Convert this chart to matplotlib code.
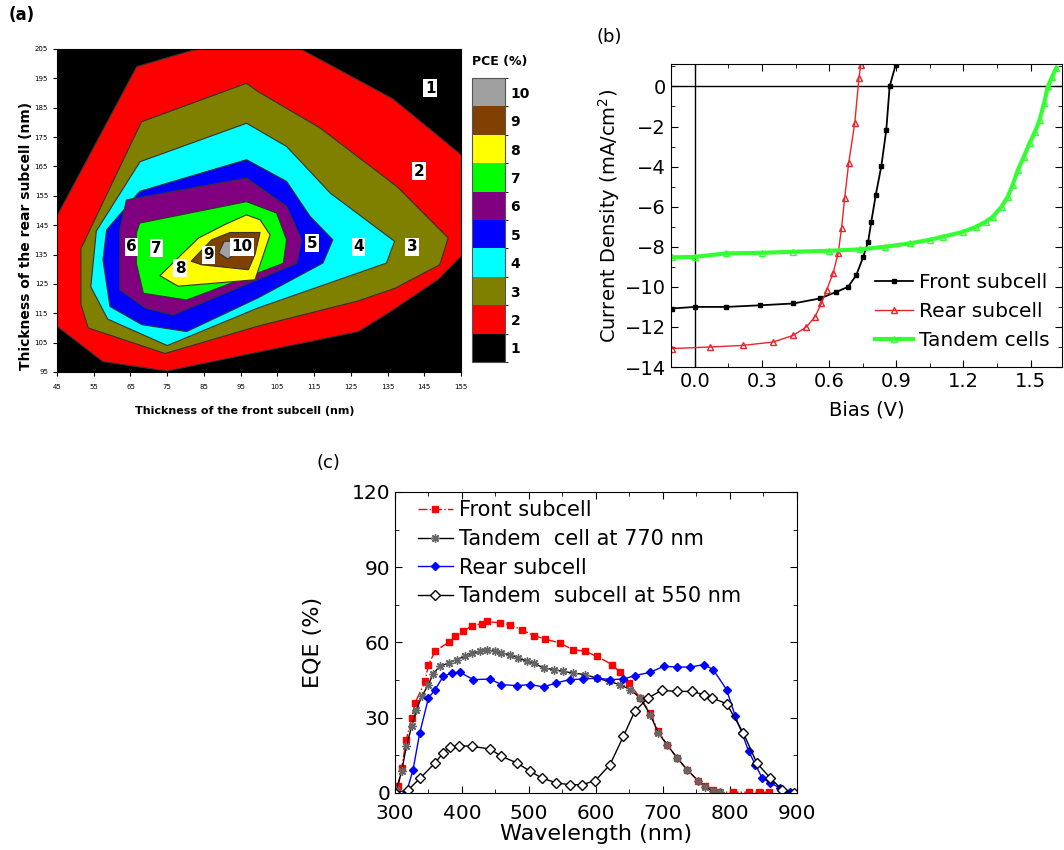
import matplotlib
matplotlib.use("Agg")
import matplotlib.pyplot as plt
import numpy as np
from matplotlib.colors import ListedColormap, BoundaryNorm
from matplotlib.cm import ScalarMappable
from matplotlib.ticker import MultipleLocator

# ---- (a) PCE contour map: boundaries (front nm, rear nm) ----
pce2_front = [45, 57.5, 75, 100, 127, 136, 148.7, 155.5, 155.5, 136.5, 110.6, 84.5, 66.7, 44.5]
pce2_rear = [110.5, 98.5, 95.3, 101.8, 108.7, 115.7, 126.4, 135, 168.5, 188, 205.5, 205.5, 199, 147]
pce3_front = [74.4, 100, 127, 137, 149.2, 151.5, 137.5, 116.6, 99.7, 96.6, 68, 51.5, 51.5, 53.5]
pce3_rear = [101.3, 110.7, 119.2, 123.5, 131.5, 140.6, 158.2, 178.1, 190.5, 193.3, 180.2, 137, 118, 110]
pce4_front = [75, 99.7, 134.7, 136.9, 119.4, 107.5, 96.6, 67.6, 55.7, 54.2, 58.8]
pce4_rear = [104, 116.8, 132.1, 139.5, 155.9, 171.8, 179.7, 166.6, 143, 124, 113]
pce5_front = [80.3, 99.7, 117.4, 120.1, 113.9, 107.5, 96.6, 67.5, 58.5, 57.5, 59.4, 68.1]
pce5_rear = [108.75, 120.2, 132.1, 140.0, 148, 159.9, 167.3, 156.5, 143.4, 133.2, 117.3, 111.1]
pce6_front = [76.6, 110.3, 111.6, 107.5, 96.6, 63.9, 62.1, 62.1, 69]
pce6_rear = [114.4, 132, 140, 151.4, 161, 153.6, 143.4, 123, 116.8]
pce7_front = [68.5, 80.3, 106.6, 107.5, 104.8, 96.6, 67.5, 66.6, 66.6]
pce7_rear = [121.8, 119.5, 132, 140, 149.1, 153, 145.7, 142.3, 132]
pce8_front = [73, 83.5, 90.7, 96.6, 100.3, 103, 98.9, 78]
pce8_rear = [127.8, 140.6, 145.2, 148.5, 146.8, 141.7, 126.4, 124.2]
pce9_front = [81.5, 87.1, 92.1, 100.3, 98.9, 97.1, 84.4]
pce9_rear = [132.7, 140, 142.5, 142.5, 135, 129.8, 131.5]
pce10_front = [89, 90.5, 93, 93.8, 91.5]
pce10_rear = [135.5, 139.5, 139.5, 135.5, 133.5]

pce_levels = [1, 2, 3, 4, 5, 6, 7, 8, 9, 10]
pce_colors = ["#000000", "#ff0000", "#808000", "#00ffff", "#0000ff",
              "#800080", "#00ff00", "#ffff00", "#804000", "#a0a0a0"]
label_front = [146.6, 143.5, 141.6, 127.1, 114.4, 65.3, 72.1, 78.5, 86.2, 95.3]
label_rear = [191.7, 163.3, 137.7, 137.7, 138.9, 137.7, 137.2, 130.3, 134.9, 137.7]

# ---- (b) J-V curves ----
front_v = [-0.104, 0.0, 0.141, 0.29, 0.439, 0.558, 0.632, 0.684, 0.721, 0.751,
           0.774, 0.788, 0.808, 0.833, 0.855, 0.870, 0.897]
front_j = [-11.08, -11.0, -11.0, -10.92, -10.83, -10.58, -10.25, -10.0, -9.42, -8.53,
           -7.75, -6.75, -5.42, -3.97, -2.17, 0.0, 1.08]
rear_v = [-0.104, 0.067, 0.216, 0.35, 0.439, 0.498, 0.536, 0.565, 0.588, 0.617,
          0.640, 0.655, 0.669, 0.687, 0.714, 0.733, 0.741]
rear_j = [-13.08, -13.0, -12.92, -12.75, -12.42, -12.0, -11.5, -10.83, -10.17, -9.33,
          -8.33, -7.08, -5.58, -3.83, -1.83, 0.42, 1.08]
tandem_v = [-0.104, 0.0, 0.141, 0.3, 0.439, 0.6, 0.736, 0.85, 0.96, 1.05, 1.108, 1.2,
            1.257, 1.3, 1.331, 1.37, 1.398, 1.42, 1.443, 1.47, 1.495, 1.52, 1.540, 1.56,
            1.577, 1.595, 1.614]
tandem_j = [-8.53, -8.5, -8.33, -8.3, -8.25, -8.2, -8.13, -8.0, -7.83, -7.65, -7.5, -7.25,
            -7.0, -6.75, -6.5, -6.0, -5.5, -4.9, -4.17, -3.5, -2.83, -2.25, -1.67, -0.85,
            0.0, 0.45, 0.92]

# ---- (c) EQE spectra ----
front_wl = [305, 310, 317, 325, 330, 345, 350, 360, 380, 390, 402, 415, 430, 437, 457,
            472, 489, 507, 524, 546, 566, 584, 601, 624, 636, 649, 666, 681, 693, 706,
            721, 736, 753, 763, 775, 783, 805, 828, 843, 858]
front_eqe = [2.7, 10, 21.3, 29.9, 35.9, 44.5, 51.2, 56.5, 60.1, 62.7, 64.5, 66.7, 67.5,
             68.4, 67.8, 67.1, 65.1, 62.7, 61.4, 59.8, 57.1, 56.5, 54.5, 51.2, 48.1,
             43.9, 37.9, 31.9, 24.6, 19.3, 14, 9.3, 4.7, 2.7, 1.1, 0.3, 0.3, 0.3, 0.3, 0.3]
t770_wl = [302, 310, 317, 325, 332, 340, 350, 357, 367, 380, 392, 405, 415, 427, 437,
           449, 459, 472, 484, 497, 507, 522, 537, 551, 566, 584, 601, 619, 636, 651,
           666, 681, 693, 706, 721, 736, 753, 763, 775, 785]
t770_eqe = [1.3, 8.6, 18.6, 26.6, 33.2, 38.5, 43.2, 47.6, 50.5, 51.8, 53.2, 54.5, 55.8,
            56.5, 57.1, 56.5, 55.8, 55.1, 53.8, 52.5, 51.8, 49.8, 49.2, 48.5, 47.8, 47.2,
            45.8, 44.5, 43.2, 41.2, 37.9, 31.2, 23.9, 19.3, 14, 9.3, 4.7, 2.4, 0.7, 0.3]
rear_wl = [317, 327, 337, 350, 360, 372, 385, 397, 417, 442, 459, 482, 502, 522, 541,
           561, 581, 601, 621, 641, 658, 681, 701, 721, 741, 761, 775, 795, 808, 818,
           828, 838, 848, 860, 875, 890]
rear_eqe = [0, 9.3, 23.9, 37.9, 41.2, 46.5, 47.8, 48.1, 45.2, 45.4, 43.2, 42.8, 43.2,
            42.3, 43.9, 45.2, 45.4, 45.8, 45.2, 45.4, 46.8, 48.1, 50.5, 50.2, 50.2, 51.2,
            49.2, 41.2, 30.6, 23.9, 16.6, 11.3, 6, 4, 2, 0.3]
t550_wl = [300, 320, 338, 360, 372, 382, 395, 415, 442, 459, 482, 502, 519, 541, 561,
           579, 599, 621, 641, 658, 678, 698, 721, 743, 761, 773, 795, 820, 840, 860,
           878, 895]
t550_eqe = [0, 1.3, 6, 12, 16, 18.2, 18.9, 18.6, 17.5, 14.6, 12, 8.6, 6, 4, 3.3, 3.3,
            4.9, 11.3, 22.6, 32.6, 37.9, 40.9, 40.5, 40.5, 39.2, 37.9, 35.6, 23.9, 12,
            6, 1.3, 0]

plt.rcParams["font.family"] = "DejaVu Sans"
fig = plt.figure(figsize=(10.64, 8.5), dpi=100)

# ---------------- (a) ----------------
ax_a = fig.add_axes([0.0536, 0.5624, 0.3797, 0.380])
ax_a.set_facecolor(pce_colors[0])
polys = [(pce2_front, pce2_rear), (pce3_front, pce3_rear), (pce4_front, pce4_rear),
         (pce5_front, pce5_rear), (pce6_front, pce6_rear), (pce7_front, pce7_rear),
         (pce8_front, pce8_rear), (pce9_front, pce9_rear), (pce10_front, pce10_rear)]
for (px, py), col in zip(polys, pce_colors[1:]):
    ax_a.fill(px, py, facecolor=col, edgecolor="#333333", linewidth=0.8)
for lv, lx, ly in zip(pce_levels, label_front, label_rear):
    ax_a.text(lx, ly, str(lv), ha="center", va="center", fontsize=11, fontweight="bold",
              bbox=dict(boxstyle="square,pad=0.1", facecolor="white", edgecolor="none"))
ax_a.set_xlim(45, 155)
ax_a.set_ylim(95, 205)
ax_a.set_xticks(range(45, 156, 10))
ax_a.set_yticks(range(95, 206, 10))
ax_a.tick_params(labelsize=5, length=3, width=0.8)
ax_a.tick_params(axis="x", pad=6)
for s in ax_a.spines.values():
    s.set_linewidth(0.8)
ax_a.set_xlabel("Thickness of the front subcell (nm)", fontsize=8, fontweight="bold")
ax_a.xaxis.set_label_coords(0.465, -0.105)
ax_a.set_ylabel("Thickness of the rear subcell (nm)", fontsize=10, fontweight="bold")
ax_a.yaxis.set_label_coords(-0.06, 0.42)
fig.text(0.008, 0.982, "(a)", fontsize=12, fontweight="bold", va="center")

cax = fig.add_axes([0.4436, 0.5741, 0.031, 0.3341])
cmap = ListedColormap(pce_colors)
norm = BoundaryNorm(np.arange(0.5, 11.5, 1), cmap.N)
cb = fig.colorbar(ScalarMappable(norm=norm, cmap=cmap), cax=cax, ticks=pce_levels)
cb.outline.set_edgecolor("#555555")
cax.tick_params(length=0, labelsize=10, pad=4)
for t in cax.get_yticklabels():
    t.set_fontweight("bold")
fig.text(0.4436, 1 - 62 / 850, "PCE (%)", fontsize=9, fontweight="bold", va="center")

# ---------------- (b) ----------------
ax_b = fig.add_axes([0.6306, 0.5682, 0.3675, 0.3565])
ax_b.axhline(0, color="black", lw=1)
ax_b.axvline(0, color="black", lw=1)
ax_b.plot(front_v, front_j, "-s", color="black", ms=3.5, lw=1.3, label="Front subcell")
ax_b.plot(rear_v, rear_j, "-^", color="#e8262a", mfc="none", ms=4, lw=1.0, label="Rear subcell")
ax_b.plot(tandem_v, tandem_j, "-^", color="#33ff33", mfc="none", ms=5, lw=3.0, label="Tandem cells")
ax_b.set_xlim(-0.107, 1.64)
ax_b.set_ylim(-14, 1.12)
ax_b.set_xticks([0.0, 0.3, 0.6, 0.9, 1.2, 1.5])
ax_b.set_xticklabels(["0.0", "0.3", "0.6", "0.9", "1.2", "1.5"])
ax_b.set_yticks(range(-14, 1, 2))
ax_b.xaxis.set_minor_locator(MultipleLocator(0.15))
ax_b.yaxis.set_minor_locator(MultipleLocator(1))
ax_b.tick_params(which="both", direction="in", top=True, right=True, labelsize=14)
ax_b.tick_params(which="major", length=5)
ax_b.tick_params(which="minor", length=3)
ax_b.set_xlabel("Bias (V)", fontsize=14, labelpad=7)
ax_b.set_ylabel("Current Density (mA/cm$^2$)", fontsize=14, labelpad=2)
ax_b.legend(loc="lower right", bbox_to_anchor=(1.015, -0.005), frameon=False, fontsize=14.5,
            handlelength=1.9, handletextpad=0.3, labelspacing=0.5)
fig.text(597 / 1064, 1 - 37 / 850, "(b)", fontsize=13, va="center")

# ---------------- (c) ----------------
ax_c = fig.add_axes([0.3712, 0.0671, 0.3778, 0.3541])
ax_c.plot(front_wl, front_eqe, "-.s", color="#ff0000", ms=4.5, lw=1.0, label="Front subcell")
ax_c.plot(t770_wl, t770_eqe, "-", color="black", marker=(8, 2, 0), mec="#666666", ms=6, lw=1.0,
          label="Tandem  cell at 770 nm")
ax_c.plot(rear_wl, rear_eqe, "-D", color="#0000ff", ms=4, lw=1.0, label="Rear subcell")
ax_c.plot(t550_wl, t550_eqe, "-D", color="black", mfc="white", ms=5, lw=1.0,
          label="Tandem  subcell at 550 nm")
ax_c.set_xlim(300, 900)
ax_c.set_ylim(0, 120)
ax_c.set_xticks(range(300, 901, 100))
ax_c.set_yticks(range(0, 121, 30))
ax_c.xaxis.set_minor_locator(MultipleLocator(50))
ax_c.yaxis.set_minor_locator(MultipleLocator(15))
ax_c.tick_params(which="both", direction="in", top=True, right=True, labelsize=14.5)
ax_c.tick_params(axis="x", pad=8)
ax_c.tick_params(which="major", length=5)
ax_c.tick_params(which="minor", length=3)
ax_c.set_xlabel("Wavelength (nm)", fontsize=16, labelpad=1)
ax_c.set_ylabel("EQE (%)", fontsize=16)
ax_c.yaxis.set_label_coords(-0.18, 0.5)
ax_c.legend(loc="upper left", bbox_to_anchor=(0.01, 1.035), frameon=False, fontsize=15,
            handlelength=1.7, handletextpad=0.3, labelspacing=0.42)
fig.text(316 / 1064, 1 - 463 / 850, "(c)", fontsize=13, va="center")

fig.savefig("out.png", dpi=100)
